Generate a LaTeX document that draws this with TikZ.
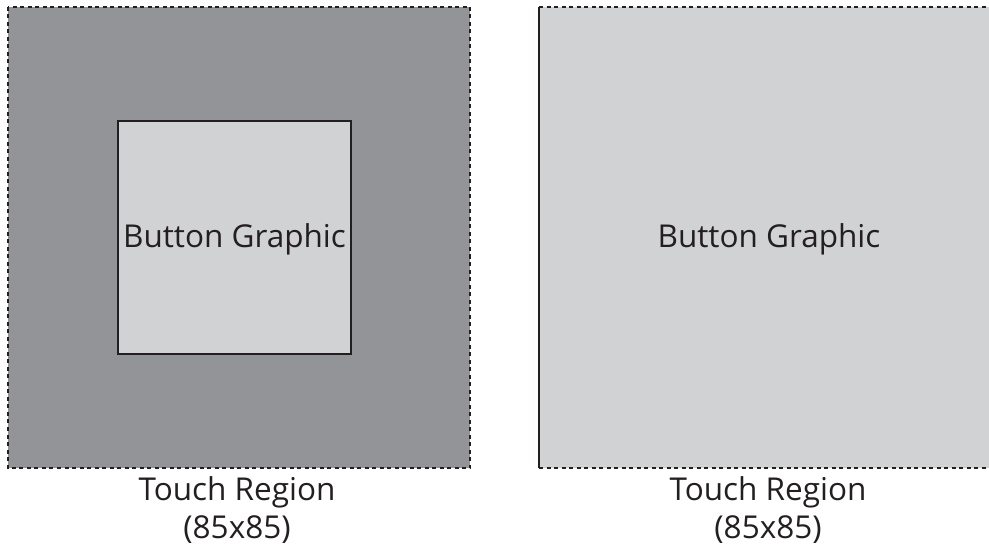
\documentclass[tikz,border=0pt]{standalone}
\usepackage{fontspec}
\setmainfont{Open Sans}
\definecolor{regiongray}{RGB}{147,148,152}
\definecolor{buttongray}{RGB}{209,210,212}
\definecolor{edgegray}{RGB}{35,31,32}
\begin{document}
\begin{tikzpicture}[x=1pt,y=-1pt,
        lbl/.style={align=center,font=\fontsize{31.5}{38}\selectfont,text=edgegray,inner sep=0pt},
        dashedge/.style={draw=edgegray,line width=1.2pt,dash pattern=on 4pt off 3.5pt}]
        \useasboundingbox (0,0) rectangle (989,548);

        % left: touch region larger than the graphic
        \fill[regiongray] (8,7) rectangle (470,468);
        \draw[dashedge] (8,7) rectangle (470,468);
        \node[draw=edgegray,line width=1.1pt,fill=buttongray,minimum width=233,minimum height=233,inner sep=0pt] (graphicA) at (234.5,237.5) {};
        \node[lbl] (textA) at (234.5,239) {Button Graphic};
        \node[lbl] (regionA) at (237,510) {Touch Region\\(85x85)};

        % right: graphic fills the touch region
        \fill[buttongray] (539,7) rectangle (999,468);
        \draw[dashedge] (539,7) -- (999,7);
        \draw[dashedge] (539,468) -- (999,468);
        \draw[draw=edgegray,line width=1.1pt] (539,7) -- (539,468);
        \node[lbl] (textB) at (769,239) {Button Graphic};
        \node[lbl] (regionB) at (768,510) {Touch Region\\(85x85)};

    \end{tikzpicture}
\end{document}
